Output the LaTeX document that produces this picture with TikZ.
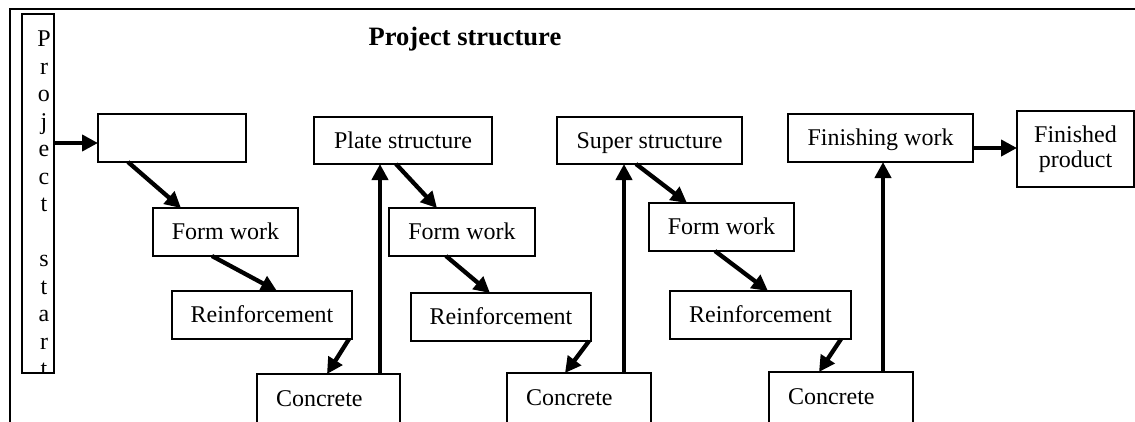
\documentclass[tikz,border=0pt]{standalone}
\usepackage{fontspec}
\setmainfont{Liberation Serif}
\usetikzlibrary{arrows.meta,calc}
\newcommand{\fsz}{\fontsize{24}{27.5}\selectfont}
\begin{document}
\begin{tikzpicture}[x=1pt,y=-1pt,
 box/.style={draw,line width=1.5pt,inner sep=0pt,outer sep=0pt,font=\fsz,align=center,text height=17pt,text depth=2pt},
 cbox/.style={draw,line width=1.5pt,outer sep=0pt,anchor=north west,font=\fsz,inner xsep=19pt,inner ysep=16pt,text height=16pt,text depth=60pt,align=left},
 arr/.style={line width=4.3pt,-{Triangle[length=16pt,width=16pt]}}]
\path[use as bounding box] (0,0) rectangle (1135,421);
\begin{scope}
\clip (0,0) rectangle (1135,421);
\draw[line width=2pt] (10,9) rectangle (1160,450);
\node[font=\bfseries\fontsize{26.5}{30}\selectfont,anchor=base,inner sep=0pt] (title) at (465,45) {Project structure};
\node[draw,line width=1.5pt,outer sep=0pt,minimum width=32pt,minimum height=359pt] (ps) at (38,193.5) {};
\begin{scope}
\clip (ps.north west) rectangle (ps.south east);
\node[anchor=north,inner sep=0pt,font=\fsz,align=center] (psl) at (44,31) {P\\r\\o\\j\\e\\c\\t\\\mbox{}\\s\\t\\a\\r\\t};
\end{scope}
\node[box,minimum width=148pt,minimum height=48pt] (b0) at (172,138) {};
\node[box,minimum width=145pt,minimum height=48pt] (fw1) at (225.5,232) {Form work};
\node[box,minimum width=180pt,minimum height=48pt] (rf1) at (262,315) {Reinforcement};
\node[cbox,text width=105pt] (cc1) at (257,374) {Concrete};
\node[box,minimum width=178pt,minimum height=47pt] (pl) at (403,140.5) {Plate structure};
\node[box,minimum width=146pt,minimum height=48pt] (fw2) at (462,232) {Form work};
\node[box,minimum width=180pt,minimum height=48pt] (rf2) at (501,317) {Reinforcement};
\node[cbox,text width=106pt] (cc2) at (507,373) {Concrete};
\node[box,minimum width=185pt,minimum height=47pt] (su) at (649.5,140.5) {Super structure};
\node[box,minimum width=145pt,minimum height=48pt] (fw3) at (721.5,227) {Form work};
\node[box,minimum width=181pt,minimum height=48pt] (rf3) at (760.5,315) {Reinforcement};
\node[cbox,text width=106pt] (cc3) at (769,372) {Concrete};
\node[box,minimum width=185pt,minimum height=48pt] (fi) at (880.5,138) {Finishing work};
\node[draw,line width=1.5pt,inner sep=0pt,outer sep=0pt,align=center,minimum width=117pt,minimum height=76pt,font=\fontsize{24}{25.5}\selectfont] (fp) at (1075.5,149) {Finished\\product};
% connectors
\draw[line width=4pt,-{Triangle[length=16pt,width=16pt]}] ($(ps.east |- b0.west)+(0,5)$) -- ($(b0.west)+(0,5)$);
\draw[arr] ($(b0.south west)+(30,0)$) -- ($(fw1.north west)+(28,0)$);
\draw[arr] ($(fw1.south west)+(59,0)$) -- ($(rf1.north west)+(105,0)$);
\draw[arr] ($(rf1.south east)+(-3,0)$) -- ($(cc1.north west)+(70,0)$);
\draw[arr] ($(cc1.north east)+(-20,0)$) -- ($(pl.south west)+(66,0)$);
\draw[arr] ($(pl.south west)+(82,0)$) -- ($(fw2.north west)+(48,0)$);
\draw[arr] ($(fw2.south west)+(57,0)$) -- ($(rf2.north west)+(79,0)$);
\draw[arr] ($(rf2.south east)+(-2,0)$) -- ($(cc2.north west)+(58,0)$);
\draw[arr] ($(cc2.north east)+(-27,0)$) -- ($(su.south west)+(67,0)$);
\draw[arr] ($(su.south west)+(79,0)$) -- ($(fw3.north west)+(38,0)$);
\draw[arr] ($(fw3.south west)+(66,0)$) -- ($(rf3.north west)+(98,0)$);
\draw[arr] ($(rf3.south east)+(-10,0)$) -- ($(cc3.north west)+(50,0)$);
\draw[arr] ($(cc3.north east)+(-30,0)$) -- ($(fi.south west)+(95,0)$);
\draw[arr] ($(fi.east)+(0,10)$) -- ($(fp.west |- fi.east)+(0,10)$);
\end{scope}
\end{tikzpicture}
\end{document}
